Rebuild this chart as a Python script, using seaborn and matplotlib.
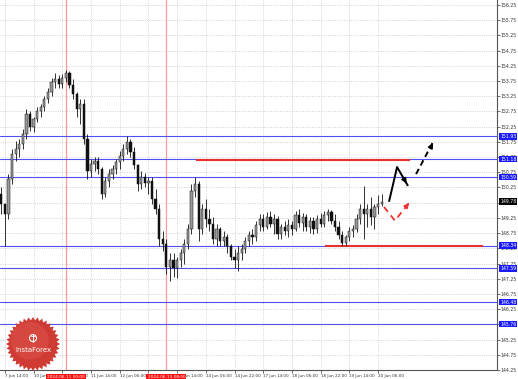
import numpy as np
import pandas as pd
import matplotlib
matplotlib.use("Agg")
import matplotlib.pyplot as plt
import seaborn as sns
from matplotlib.patches import Polygon, Circle, Rectangle

# ---------------- data ----------------
bar_hours = list(range(-2, 212, 2))

opens = [150.04, 149.71, 149.38, 150.53, 151.34, 151.51, 151.67, 152.00, 152.65, 152.23,
         152.49, 152.75, 152.88, 153.14, 153.40, 153.73, 153.80, 153.66, 153.86, 154.02,
         153.63, 153.31, 152.82, 152.98, 151.83, 150.79, 151.02, 151.12, 150.85, 150.04,
         150.46, 150.69, 150.85, 151.08, 151.28, 151.51, 151.74, 151.41, 150.98, 150.36,
         150.59, 150.40, 150.46, 149.87, 149.55, 148.57, 148.40, 147.65, 147.85, 147.59,
         147.85, 148.08, 148.40, 148.89, 150.14, 150.36, 148.89, 149.55, 149.22, 149.06,
         148.57, 148.89, 148.50, 148.63, 148.31, 147.98, 147.85, 148.08, 148.24, 148.50,
         148.70, 148.63, 149.02, 149.22, 148.96, 149.29, 149.06, 149.22, 148.73, 148.96,
         148.83, 149.02, 148.89, 149.35, 149.09, 149.29, 148.96, 149.15, 148.89, 149.22,
         149.06, 149.35, 149.45, 149.15, 148.96, 148.70, 148.44, 148.63, 148.83, 148.89,
         149.22, 149.55, 149.38, 149.55, 149.29, 149.61, 149.71]

highs = [150.27, 149.71, 150.69, 151.51, 151.77, 151.83, 152.16, 152.82, 152.75, 152.55,
         152.88, 152.98, 153.27, 153.53, 153.86, 154.02, 153.96, 153.99, 154.12, 154.09,
         153.80, 153.40, 153.14, 153.14, 152.00, 151.18, 151.25, 151.25, 150.92, 150.59,
         150.85, 150.98, 151.18, 151.44, 151.67, 151.93, 151.83, 151.57, 151.02, 150.79,
         150.72, 150.59, 150.59, 150.20, 149.71, 148.83, 148.57, 148.08, 148.08, 147.98,
         148.24, 148.57, 149.06, 150.36, 150.59, 150.46, 149.71, 149.87, 149.55, 149.29,
         149.06, 148.96, 148.83, 148.73, 148.40, 148.24, 148.31, 148.40, 148.63, 148.83,
         148.89, 149.15, 149.38, 149.38, 149.45, 149.48, 149.38, 149.32, 149.06, 149.15,
         149.22, 149.15, 149.48, 149.55, 149.42, 149.38, 149.29, 149.29, 149.35, 149.42,
         149.48, 149.55, 149.51, 149.38, 149.15, 148.83, 148.70, 148.96, 149.02, 149.38,
         149.71, 150.30, 149.71, 149.94, 149.71, 150.00, 150.04]

lows = [149.38, 148.31, 149.22, 150.36, 151.12, 151.25, 151.51, 151.83, 152.10, 152.06,
        152.39, 152.55, 152.75, 153.01, 153.27, 153.53, 153.53, 153.53, 153.73, 153.53,
        153.14, 152.55, 152.33, 151.67, 150.53, 150.59, 150.79, 150.69, 149.87, 149.94,
        150.27, 150.53, 150.69, 150.85, 151.12, 151.34, 151.25, 150.85, 150.14, 150.20,
        150.27, 150.04, 149.71, 149.38, 148.34, 148.17, 147.42, 147.16, 147.32, 147.26,
        147.65, 147.75, 148.24, 148.73, 149.94, 148.50, 148.73, 148.96, 148.83, 148.40,
        148.34, 148.34, 148.31, 148.08, 147.85, 147.59, 147.52, 147.85, 148.08, 148.31,
        148.40, 148.50, 148.83, 148.83, 148.89, 148.96, 148.73, 148.57, 148.57, 148.70,
        148.63, 148.70, 148.83, 148.96, 148.83, 148.83, 148.76, 148.73, 148.76, 148.96,
        148.96, 149.15, 149.06, 148.83, 148.57, 148.34, 148.31, 148.50, 148.63, 148.80,
        149.06, 148.57, 148.96, 149.02, 148.89, 149.38, 149.65]

closes = [149.71, 149.38, 150.53, 151.34, 151.51, 151.67, 152.00, 152.65, 152.23, 152.49,
          152.75, 152.88, 153.14, 153.40, 153.73, 153.80, 153.66, 153.86, 154.02, 153.63,
          153.31, 152.82, 152.98, 151.83, 150.79, 151.02, 151.12, 150.85, 150.04, 150.46,
          150.69, 150.85, 151.08, 151.28, 151.51, 151.74, 151.41, 150.98, 150.36, 150.59,
          150.40, 150.46, 149.87, 149.55, 148.57, 148.40, 147.65, 147.85, 147.59, 147.85,
          148.08, 148.40, 148.89, 150.14, 150.36, 148.89, 149.55, 149.22, 149.06, 148.57,
          148.89, 148.50, 148.63, 148.31, 147.98, 147.85, 148.08, 148.24, 148.50, 148.70,
          148.63, 149.02, 149.22, 148.96, 149.29, 149.06, 149.22, 148.73, 148.96, 148.83,
          149.02, 148.89, 149.35, 149.09, 149.29, 148.96, 149.15, 148.89, 149.22, 149.06,
          149.35, 149.45, 149.15, 148.96, 148.70, 148.44, 148.63, 148.83, 148.89, 149.22,
          149.55, 149.38, 149.55, 149.29, 149.61, 149.71, 149.78]

tick_hours = [0, 16, 32, 48, 64, 80, 96, 112, 128, 144, 160, 176, 192, 208]
tick_labels = ["7 Jun 14:00", "10 Jun 06:00", "10 Jun 22:00", "11 Jun 14:00",
               "12 Jun 06:00", "12 Jun 22:00", "13 Jun 14:00", "14 Jun 06:00",
               "14 Jun 22:00", "17 Jun 14:00", "18 Jun 06:00", "18 Jun 22:00",
               "19 Jun 14:00", "20 Jun 06:00"]
price_ticks = [144.25, 144.75, 145.25, 145.75, 146.25, 146.75, 147.25, 147.75, 148.25,
               148.75, 149.25, 149.75, 150.25, 150.75, 151.25, 151.75, 152.25, 152.75,
               153.25, 153.75, 154.25, 154.75, 155.25, 155.75, 156.25]

blue_levels = [151.93, 151.18, 150.59, 148.34, 147.59, 146.48, 145.76]
red_levels = [151.15, 148.33]
red_level_start = [106.5, 178.4]
red_level_end = [225.8, 266.5]

vline_hours = [34, 90]
vline_labels = ["2024.06.11 00:00", "2024.06.13 08:00"]

black_path_h = [214.1, 218.6, 224.7]
black_path_p = [149.78, 150.92, 150.30]
black_dash_h = [229.2, 238.6]
black_dash_p = [150.69, 151.74]
red_path_h = [211.3, 217.4, 225.8]
red_path_p = [149.61, 149.16, 149.78]

# ---------------- figure ----------------
sns.set_theme(style="white")
plt.rcParams['font.family'] = ['DejaVu Sans']

W, H = 518, 379
fig = plt.figure(figsize=(W / 100, H / 100), dpi=100)
fig.patch.set_facecolor("white")
ax = fig.add_axes([0, 9 / H, 497 / W, 370 / H])
ax.set_facecolor("white")

ax.set_xlim(-2.73, 274.3)
ax.set_ylim(144.32, 156.41)

# grid
ax.set_xticks(tick_hours)
ax.set_yticks(price_ticks)
ax.grid(True, color="#c4c4c4", linestyle=(0, (1.2, 1.8)), linewidth=0.55)
ax.set_axisbelow(True)

# vertical period separators
for h in vline_hours:
    ax.axvline(h, color="#ff9a9a", lw=0.9, zorder=1)

# blue levels
for lv in blue_levels:
    ax.axhline(lv, color="#5050f0", lw=0.8, zorder=1.5)

# red levels
for lv, s, e in zip(red_levels, red_level_start, red_level_end):
    ax.hlines(lv, s, e, color="#e8302c", lw=1.5, zorder=2)

# candles
df = pd.DataFrame({"h": bar_hours, "o": opens, "hi": highs, "lo": lows, "c": closes})
df["bull"] = df["c"] >= df["o"]
ax.vlines(df["h"], df["lo"], df["hi"], color="#111111", lw=0.6, zorder=3)
bw = 1.25
for _, r in df.iterrows():
    lo_b = min(r.o, r.c)
    hgt = max(abs(r.c - r.o), 0.02)
    fc = "#9a9a9a" if r.bull else "#111111"
    ax.add_patch(Rectangle((r.h - bw / 2, lo_b), bw, hgt, facecolor=fc,
                           edgecolor="#111111", lw=0.35, zorder=4))

# projection arrows
ax.plot(black_path_h, black_path_p, color="black", lw=1.4, zorder=5,
        solid_capstyle="butt")
ax.annotate("", xy=(black_path_h[-1], black_path_p[-1]),
            xytext=(black_path_h[-2] + 0.7 * (black_path_h[-1] - black_path_h[-2]),
                    black_path_p[-2] + 0.7 * (black_path_p[-1] - black_path_p[-2])),
            arrowprops=dict(arrowstyle="-|>", color="black", lw=1.2,
                            mutation_scale=7), zorder=6)
ax.plot(black_dash_h, black_dash_p, color="black", lw=1.4, ls=(0, (3, 2)), zorder=5)
ax.annotate("", xy=(black_dash_h[-1] + 0.8, black_dash_p[-1] + 0.05),
            xytext=(black_dash_h[-1] - 1.5, black_dash_p[-1] - 0.2),
            arrowprops=dict(arrowstyle="-|>", color="black", lw=1.2,
                            mutation_scale=7), zorder=6)
ax.plot(red_path_h, red_path_p, color="#f03030", lw=1.3, ls=(0, (3.5, 2.5)), zorder=5)
ax.annotate("", xy=(red_path_h[-1] + 0.5, red_path_p[-1] + 0.03),
            xytext=(red_path_h[-1] - 2.0, red_path_p[-1] - 0.15),
            arrowprops=dict(arrowstyle="-|>", color="#f03030", lw=1.1,
                            mutation_scale=7), zorder=6)

# axes styling
for s in ["left", "top"]:
    ax.spines[s].set_visible(False)
for s in ["right", "bottom"]:
    ax.spines[s].set_color("#555555")
    ax.spines[s].set_linewidth(0.8)
ax.yaxis.tick_right()
ax.set_yticklabels([f"{v:.2f}" for v in price_ticks])
ax.set_xticklabels(tick_labels, ha="left")
ax.tick_params(axis="y", length=2, width=0.5, pad=0.8, labelsize=3.3,
               colors="#333333", right=True, left=False)
ax.tick_params(axis="x", length=2, width=0.5, pad=1.0, labelsize=3.0,
               colors="#333333", bottom=True)

ytr = ax.get_yaxis_transform()
for lv in blue_levels:
    ax.text(1.0065, lv, f"{lv:.2f}", transform=ytr, fontsize=3.3, color="white",
            va="center", ha="left", clip_on=False, zorder=10,
            bbox=dict(boxstyle="square,pad=0.18", fc="#1a1aff", ec="none"))
ax.text(1.0065, closes[-1], f"{closes[-1]:.2f}", transform=ytr, fontsize=3.3,
        color="white", va="center", ha="left", clip_on=False, zorder=10,
        bbox=dict(boxstyle="square,pad=0.18", fc="black", ec="none"))

xtr = ax.get_xaxis_transform()
for h, lab in zip(vline_hours, vline_labels):
    ax.text(h, -0.0135, lab, transform=xtr, fontsize=3.1, color="white",
            va="top", ha="center", clip_on=False, zorder=10,
            bbox=dict(boxstyle="square,pad=0.3", fc="#ff1010", ec="none"))

# logo
cx, cy, rr = 33, 344, 27
lax = fig.add_axes([(cx - rr) / W, (H - cy - rr) / H, 2 * rr / W, 2 * rr / H])
lax.set_xlim(-1, 1)
lax.set_ylim(-1, 1)
lax.axis("off")
n = 36
ang = np.linspace(0, 2 * np.pi, 2 * n, endpoint=False)
rad = np.where(np.arange(2 * n) % 2 == 0, 1.0, 0.88)
lax.add_patch(Polygon(np.c_[rad * np.cos(ang), rad * np.sin(ang)], closed=True,
                      fc="#cf3a33", ec="none"))
lax.add_patch(Circle((-0.12, 0.12), 0.7, fc="#dc5048", ec="none", alpha=0.6))
lax.add_patch(Circle((0, 0.22), 0.13, fc="none", ec="white", lw=0.8))
lax.plot([0, 0], [0.06, 0.36], color="white", lw=0.7)
lax.plot([-0.08, 0.08], [0.3, 0.3], color="white", lw=0.6)
lax.text(0, -0.22, "InstaForex", color="white", fontsize=5, ha="center", va="center")

fig.savefig("out.png", dpi=100, facecolor="white")
